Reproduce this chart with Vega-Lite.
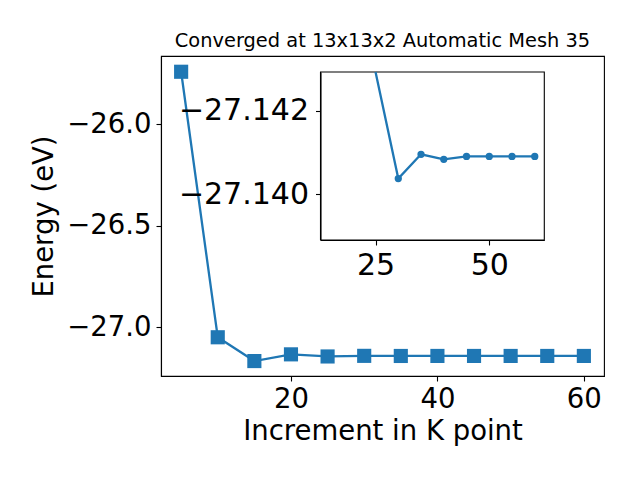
{
  "$schema": "https://vega.github.io/schema/vega-lite/v6.json",
  "width": 443,
  "height": 320,
  "autosize": {"type": "none"},
  "padding": {"left": 161, "top": 56, "right": 36, "bottom": 104},
  "background": "white",
  "config": {
    "font": "DejaVu Sans",
    "view": {"stroke": "black", "strokeWidth": 1.1},
    "axis": {"grid": false, "domainColor": "black", "tickColor": "black", "labelColor": "black", "titleColor": "black", "titleFontWeight": "normal", "labelFont": "DejaVu Sans", "titleFont": "DejaVu Sans", "tickWidth": 1.1, "domainWidth": 1.1}
  },
  "title": {"text": "Converged at 13x13x2 Automatic Mesh 35", "fontSize": 19.4, "fontWeight": "normal", "font": "DejaVu Sans", "color": "black", "offset": 5},
  "datasets": {
    "energy": [
      {"k": 5, "energy": -25.743},
      {"k": 10, "energy": -27.049},
      {"k": 15, "energy": -27.166},
      {"k": 20, "energy": -27.133},
      {"k": 25, "energy": -27.14341},
      {"k": 30, "energy": -27.14038},
      {"k": 35, "energy": -27.14096},
      {"k": 40, "energy": -27.14084},
      {"k": 45, "energy": -27.14091},
      {"k": 50, "energy": -27.14091},
      {"k": 55, "energy": -27.14091},
      {"k": 60, "energy": -27.14091}
    ]
  },
  "layer": [
    {
      "data": {"name": "energy"},
      "encoding": {
        "x": {"field": "k", "type": "quantitative",
          "scale": {"domain": [2.25, 62.75], "nice": false, "zero": false},
          "axis": {"values": [20, 40, 60], "title": "Increment in K point", "labelFontSize": 27.5, "titleFontSize": 27.5, "tickSize": 5, "labelPadding": 4, "titlePadding": 5, "labelFlush": false}},
        "y": {"field": "energy", "type": "quantitative",
          "scale": {"domain": [-27.2395, -25.6655], "nice": false, "zero": false},
          "axis": {"values": [-26.0, -26.5, -27.0], "format": ".1f", "title": "Energy (eV)", "labelFontSize": 27.5, "titleFontSize": 27.5, "tickSize": 5, "labelPadding": 5, "titlePadding": 8, "labelFlush": false}}
      },
      "layer": [
        {"mark": {"type": "line", "color": "#1f77b4", "strokeWidth": 2.3}},
        {"mark": {"type": "point", "shape": "square", "filled": true, "size": 200, "color": "#1f77b4", "opacity": 1}}
      ]
    },
    {
      "layer": [
        {
          "data": {"values": [{"box": "inset"}]},
          "mark": {"type": "rect", "fill": "white", "stroke": "black", "strokeWidth": 1.1},
          "encoding": {
            "x": {"datum": 12.9, "type": "quantitative",
              "scale": {"domain": [12.9, 62.1], "range": [159.5, 383.3], "nice": false, "zero": false},
              "axis": {"values": [25, 50], "title": null, "orient": "bottom", "offset": -136, "labelFontSize": 30, "tickSize": 5, "labelPadding": 5, "labelFlush": false, "zindex": 1}},
            "x2": {"datum": 62.1},
            "y": {"datum": -27.14293, "type": "quantitative",
              "scale": {"domain": [-27.14293, -27.13891], "range": [16, 184], "nice": false, "zero": false, "clamp": true},
              "axis": {"values": [-27.142, -27.140], "format": ".3f", "title": null, "orient": "left", "offset": -159.5, "labelFontSize": 30, "tickSize": 5, "labelPadding": 7, "labelFlush": false, "zindex": 1}},
            "y2": {"datum": -27.13891}
          }
        },
        {
          "data": {"name": "energy"},
          "transform": [{"filter": "datum.k >= 25"}],
          "mark": {"type": "line", "color": "#1f77b4", "strokeWidth": 2.3},
          "encoding": {
            "x": {"field": "k", "type": "quantitative"},
            "y": {"field": "energy", "type": "quantitative"}
          }
        },
        {
          "data": {"name": "energy"},
          "transform": [{"filter": "datum.k >= 30"}],
          "mark": {"type": "point", "shape": "circle", "filled": true, "size": 53, "color": "#1f77b4", "opacity": 1},
          "encoding": {
            "x": {"field": "k", "type": "quantitative"},
            "y": {"field": "energy", "type": "quantitative"}
          }
        }
      ]
    }
  ],
  "resolve": {"scale": {"x": "independent", "y": "independent"}, "axis": {"x": "independent", "y": "independent"}}
}
